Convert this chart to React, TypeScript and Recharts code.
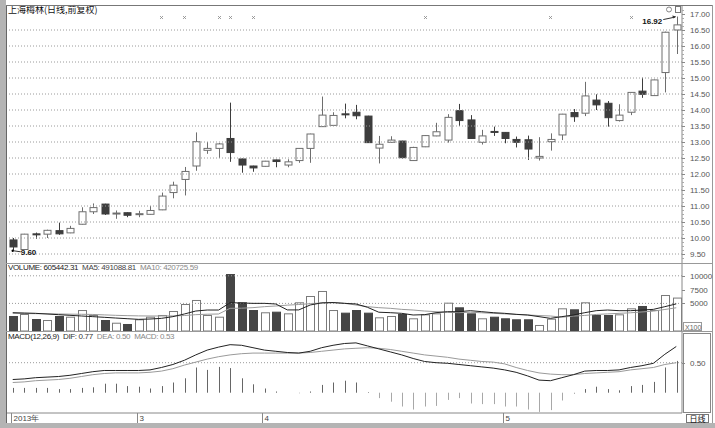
import React from 'react';
import { ComposedChart, Bar, Line, XAxis, YAxis, ReferenceLine } from 'recharts';

// daily candles, 上海梅林 2013
const OPEN = [
  9.94, 9.64, 10.13, 10.12, 10.23, 10.16, 10.43, 10.82, 11.06, 10.77,
  10.79, 10.74, 10.74, 10.88, 11.42, 11.83, 12.25, 12.74, 12.80, 13.11,
  12.47, 12.25, 12.24, 12.44, 12.28, 12.42, 12.80, 13.48, 13.52, 13.88,
  13.93, 13.81, 12.81, 12.99, 13.03, 12.42, 12.85, 13.19, 13.06, 13.98,
  13.69, 12.99, 13.33, 13.30, 13.08, 13.07, 12.50, 13.01, 13.22, 13.92,
  13.90, 14.31, 14.21, 13.67, 13.93, 14.59, 14.45, 15.17, 16.50,
];
const HIGH = [
  10.00, 10.13, 10.17, 10.26, 10.48, 10.38, 10.96, 11.08, 11.07, 10.86,
  10.80, 10.85, 11.00, 11.42, 11.76, 12.22, 13.30, 13.00, 12.97, 14.23,
  12.48, 12.26, 12.41, 12.45, 12.46, 12.81, 13.26, 14.42, 13.93, 14.20,
  14.16, 13.82, 13.19, 13.18, 13.04, 12.85, 13.21, 13.60, 13.87, 14.19,
  13.84, 13.38, 13.48, 13.31, 13.17, 13.20, 13.15, 13.27, 13.88, 14.03,
  14.88, 14.49, 14.28, 14.18, 14.56, 15.01, 14.95, 16.45, 16.92,
];
const LOW = [
  9.60, 9.62, 9.97, 10.00, 10.10, 10.15, 10.42, 10.75, 10.72, 10.60,
  10.65, 10.65, 10.73, 10.87, 11.24, 11.33, 12.10, 12.63, 12.50, 12.38,
  12.04, 12.07, 12.23, 12.21, 12.21, 12.35, 12.35, 13.47, 13.50, 13.74,
  13.71, 12.97, 12.33, 12.98, 12.48, 12.41, 12.84, 13.18, 12.98, 13.50,
  13.10, 12.92, 13.19, 12.96, 12.83, 12.44, 12.42, 12.73, 13.06, 13.63,
  13.81, 14.00, 13.48, 13.64, 13.84, 14.38, 14.44, 14.55, 15.75,
];
const CLOSE = [
  9.72, 10.12, 10.12, 10.24, 10.13, 10.30, 10.82, 10.95, 10.75, 10.78,
  10.71, 10.76, 10.86, 11.31, 11.65, 12.08, 13.01, 12.80, 12.94, 12.67,
  12.28, 12.19, 12.40, 12.39, 12.38, 12.80, 13.25, 13.84, 13.83, 13.86,
  13.82, 12.98, 12.93, 13.06, 12.51, 12.83, 13.20, 13.32, 13.77, 13.67,
  13.11, 13.19, 13.32, 13.11, 12.99, 12.78, 12.55, 13.08, 13.87, 13.79,
  14.44, 14.16, 13.76, 13.84, 14.55, 14.49, 14.94, 16.43, 16.66,
];
const VOLUME = [
  272000, 308000, 217000, 199000, 272000, 259000, 380000, 290000, 199000, 150000,
  127000, 212000, 259000, 290000, 362000, 489000, 562000, 290000, 259000, 1032000,
  520000, 380000, 339000, 350000, 320000, 520000, 634000, 725000, 380000, 332000,
  380000, 332000, 248000, 272000, 308000, 230000, 302000, 320000, 513000, 429000,
  320000, 230000, 259000, 230000, 212000, 212000, 109000, 223000, 411000, 393000,
  520000, 290000, 290000, 302000, 411000, 453000, 380000, 652000, 605442,
];
const VOL_MA5 = [
  332000, 326000, 320000, 308000, 296000, 284000, 272000, 260000, 248000, 235000,
  223000, 211000, 217000, 229000, 260000, 308000, 362000, 380000, 380000, 513000,
  507000, 501000, 501000, 489000, 382000, 382000, 471000, 510000, 516000, 501000,
  490000, 430000, 340000, 332000, 320000, 290000, 296000, 332000, 350000, 350000,
  368000, 350000, 332000, 320000, 302000, 290000, 260000, 229000, 260000, 290000,
  332000, 368000, 380000, 368000, 368000, 380000, 392000, 441000, 491089,
];
const VOL_MA10 = [
  320000, 316000, 314000, 312000, 308000, 305000, 303000, 300000, 292000, 284000,
  278000, 274000, 272000, 272000, 274000, 280000, 296000, 304000, 308000, 411000,
  413000, 423000, 441000, 453000, 468000, 480000, 495000, 507000, 513000, 501000,
  471000, 441000, 423000, 411000, 392000, 380000, 362000, 350000, 338000, 332000,
  340000, 330000, 320000, 310000, 300000, 290000, 280000, 272000, 250000, 270000,
  282000, 300000, 310000, 320000, 330000, 345000, 360000, 390000, 420726,
];
const DIF = [
  0.22, 0.23, 0.25, 0.26, 0.27, 0.29, 0.32, 0.35, 0.37, 0.37,
  0.37, 0.37, 0.38, 0.42, 0.47, 0.54, 0.63, 0.71, 0.76, 0.80,
  0.79, 0.75, 0.71, 0.69, 0.67, 0.66, 0.69, 0.75, 0.79, 0.82,
  0.83, 0.78, 0.73, 0.68, 0.63, 0.57, 0.52, 0.50, 0.49, 0.47,
  0.45, 0.43, 0.41, 0.38, 0.34, 0.28, 0.21, 0.20, 0.25, 0.30,
  0.36, 0.37, 0.37, 0.38, 0.42, 0.45, 0.49, 0.64, 0.77,
];
const DEA = [
  0.17, 0.18, 0.20, 0.21, 0.22, 0.24, 0.27, 0.30, 0.32, 0.33,
  0.33, 0.33, 0.34, 0.36, 0.40, 0.46, 0.51, 0.56, 0.60, 0.63,
  0.65, 0.66, 0.66, 0.66, 0.66, 0.66, 0.67, 0.69, 0.71, 0.73,
  0.74, 0.75, 0.74, 0.72, 0.69, 0.66, 0.63, 0.61, 0.59, 0.56,
  0.54, 0.52, 0.51, 0.48, 0.42, 0.37, 0.33, 0.31, 0.30, 0.30,
  0.32, 0.33, 0.34, 0.35, 0.38, 0.40, 0.42, 0.47, 0.50,
];
const MACD_BAR = [
  0.08, 0.08, 0.08, 0.08, 0.06, 0.06, 0.08, 0.09, 0.15, 0.15,
  0.11, 0.10, 0.07, 0.11, 0.17, 0.24, 0.42, 0.38, 0.43, 0.41,
  0.24, 0.14, 0.07, 0.02, 0.00, -0.01, 0.02, 0.13, 0.17, 0.20,
  0.17, 0.01, -0.09, -0.15, -0.23, -0.28, -0.23, -0.22, -0.12, -0.09,
  -0.18, -0.19, -0.19, -0.23, -0.23, -0.28, -0.32, -0.29, -0.13, -0.02,
  0.06, 0.10, 0.06, 0.04, 0.11, 0.13, 0.18, 0.42, 0.53,
];

const PRICE_TICKS = [9.5, 10, 10.5, 11, 11.5, 12, 12.5, 13, 13.5, 14, 14.5, 15, 15.5, 16, 16.5, 17];
const PRICE_MINOR = [
  9.375, 9.625, 9.75, 9.875, 10.125, 10.25, 10.375, 10.625, 10.75, 10.875,
  11.125, 11.25, 11.375, 11.625, 11.75, 11.875, 12.125, 12.25, 12.375, 12.625, 12.75, 12.875,
  13.125, 13.25, 13.375, 13.625, 13.75, 13.875, 14.125, 14.25, 14.375, 14.625, 14.75, 14.875,
  15.125, 15.25, 15.375, 15.625, 15.75, 15.875, 16.125, 16.25, 16.375, 16.625, 16.75, 16.875, 17.125,
];
const PRICE_GRID = PRICE_TICKS.filter(t => t < 17);
const VOL_TICKS = [500000, 750000, 1000000];
const VOL_GRID = [500000, 1000000];
const MACD_TICKS = [0.5];
const MONTH_TICKS: Record<number, string> = { 0: '2013年', 11: '3', 22: '4', 43: '5' };
const EVENT_MARKS = [13, 15, 18, 19, 21, 36, 47, 54];
const MARK_LEVEL = 16.9;
const LOW_TAG = { i: 0, text: '9.60' };
const HIGH_TAG = { i: 58, text: '16.92' };

const data = OPEN.map((o, i) => ({
  i,
  o, h: HIGH[i], l: LOW[i], c: CLOSE[i],
  v: VOLUME[i], ma5: VOL_MA5[i], ma10: VOL_MA10[i],
  dif: DIF[i], dea: DEA[i], macd: MACD_BAR[i],
  mark: EVENT_MARKS.includes(i) ? MARK_LEVEL : null,
}));

const W = 706;
const AXIS_W = 31;
const PRICE_DOMAIN: [number, number] = [9.21875, 17.28125];
const VOL_TOP = 263;
const VOL_H = 68;
const VOL_MAX = 1231884;
const FONT = '"Liberation Sans", Arial, sans-serif';
const DARK = '#3d3d3d';
const LIGHT = '#6e6e6e';

// right-hand axis tick: long dash + label for majors, short dash for minors
function makeAxisTick(majors: number[], fmt: ((v: number) => string) | null) {
  return (props: any) => {
    const { x, y, payload } = props;
    const v = payload.value;
    const major = majors.some(m => Math.abs(m - v) < 1e-9);
    const yy = Math.round(y) + 0.5;
    return (
      <g>
        <line x1={x} x2={x + (major ? 3 : 2)} y1={yy} y2={yy} stroke={major ? '#888' : '#aaa'} />
        {major && fmt && (
          <text x={x + 8} y={y} dy={3} fontSize={8} fill="#555" fontFamily={FONT}>{fmt(v)}</text>
        )}
      </g>
    );
  };
}
const priceTick = makeAxisTick(PRICE_TICKS, v => v.toFixed(2));
const volTick = makeAxisTick(VOL_TICKS, null);
const macdTick = makeAxisTick(MACD_TICKS, v => v.toFixed(2));
const PRICE_ALL_TICKS = [...PRICE_TICKS, ...PRICE_MINOR].sort((a, b) => a - b);

function Candle(props: any) {
  const { x, y, width, height, payload } = props;
  if (!payload || !isFinite(y)) return <g />;
  const top = Math.min(y, y + height);
  const span = Math.abs(height);
  const { o, h, l, c } = payload;
  const py = (p: number) => top + ((h - p) / (h - l)) * span;
  const up = c >= o;
  const cx = Math.round(x + width / 2) + 0.5;
  const bTop = py(Math.max(o, c));
  const bBot = py(Math.min(o, c));
  const col = up ? LIGHT : DARK;
  return (
    <g>
      <line x1={cx} x2={cx} y1={top} y2={top + span} stroke={col} />
      <rect x={cx - 3.5} y={bTop} width={7} height={Math.max(bBot - bTop, 1)}
        fill={up ? '#fff' : DARK} stroke={col} />
    </g>
  );
}

function VolBar(props: any) {
  const { x, y, width, height, payload } = props;
  if (!payload) return <g />;
  const up = payload.c >= payload.o;
  const top = Math.min(y, y + height);
  const cx = Math.round(x + width / 2) + 0.5;
  return (
    <rect x={cx - 4} y={top + 0.5} width={8} height={Math.max(Math.abs(height) - 0.5, 0)}
      fill={up ? '#fff' : '#454545'} stroke={up ? '#7a7a7a' : '#454545'} />
  );
}

function MacdStick(props: any) {
  const { x, y, width, height, payload } = props;
  if (!payload) return <g />;
  const cx = Math.round(x + width / 2) + 0.5;
  return <line x1={cx} x2={cx} y1={y} y2={y + height} stroke={payload.macd >= 0 ? '#666' : '#a8a8a8'} />;
}

function markDot(props: any) {
  const { cx, cy, payload, index } = props;
  if (payload.mark == null || !isFinite(cy)) return <g key={index} />;
  const x = Math.round(cx) + 0.5, y = Math.round(cy) + 0.5;
  return (
    <path key={index} d={`M${x - 1.5} ${y - 1.5} L${x + 1.5} ${y + 1.5} M${x + 1.5} ${y - 1.5} L${x - 1.5} ${y + 1.5}`}
      stroke="#888" strokeWidth={0.8} fill="none" />
  );
}

function lowTagDot(props: any) {
  const { cx, cy, index } = props;
  if (index !== LOW_TAG.i) return <g key={index} />;
  return (
    <g key={index}>
      <circle cx={cx} cy={cy} r={1.2} fill="#000" />
      <line x1={cx + 1} y1={cy} x2={cx + 8} y2={cy + 1} stroke="#333" />
      <text x={cx + 8} y={cy + 4} fontSize={8} fill="#111" fontFamily={FONT} fontWeight="bold">{LOW_TAG.text}</text>
    </g>
  );
}

function highTagDot(props: any) {
  const { cx, cy, index } = props;
  if (index !== HIGH_TAG.i) return <g key={index} />;
  return (
    <g key={index}>
      <line x1={cx - 13} y1={cy + 3} x2={cx - 1} y2={cy + 0.5} stroke="#333" />
      <path d={`M${cx} ${cy} l-4 -1 l1 3 z`} fill="#333" />
      <text x={cx - 14} y={cy + 7} textAnchor="end" fontSize={8} fill="#111" fontFamily={FONT} fontWeight="bold">{HIGH_TAG.text}</text>
    </g>
  );
}

function MonthTick(props: any) {
  const { x, y, payload } = props;
  const label = MONTH_TICKS[payload.value];
  if (label == null) return <g />;
  const lx = Math.round(x) - 1.5;
  return (
    <g>
      <line x1={lx} x2={lx} y1={y} y2={y + 10} stroke="#888" />
      <text x={lx + 2} y={y + 8} fontSize={8} fill="#444" fontFamily={FONT}>{label}</text>
    </g>
  );
}

const dotted = { stroke: '#9a9a9a', strokeDasharray: '1 2' };
const header = { position: 'absolute' as const, left: 8, fontSize: 8, lineHeight: '10px', whiteSpace: 'nowrap' as const, letterSpacing: '-0.35px' };
const yAxisCommon = {
  orientation: 'right' as const, width: AXIS_W, allowDataOverflow: true, interval: 'preserveStartEnd' as const, minTickGap: -60,
  tickSize: 0, tickMargin: 0, tickLine: false, axisLine: { stroke: '#888' }, tickFormatter: () => '',
};

export default function App() {
  return (
    <div style={{ position: 'absolute', left: 0, top: 0, width: 715, height: 428, background: '#fff', fontFamily: FONT, overflow: 'hidden' }}>
      <div style={{ position: 'absolute', left: 7, top: 5 }}>
        <ComposedChart width={W} height={258} data={data} margin={{ top: 0, right: 0, bottom: 0, left: 0 }}>
          <XAxis dataKey="i" type="category" hide />
          <YAxis {...yAxisCommon} domain={PRICE_DOMAIN} ticks={PRICE_ALL_TICKS} tick={priceTick} />
          {PRICE_GRID.map(p => <ReferenceLine key={p} y={p} {...dotted} />)}
          <Bar dataKey={(d: any) => [d.l, d.h]} barSize={8} shape={Candle} isAnimationActive={false} />
          <Line dataKey="mark" stroke="none" dot={markDot} activeDot={false} isAnimationActive={false} />
          <Line dataKey="l" stroke="none" dot={lowTagDot} activeDot={false} isAnimationActive={false} />
          <Line dataKey="h" stroke="none" dot={highTagDot} activeDot={false} isAnimationActive={false} />
        </ComposedChart>
      </div>

      <div style={{ position: 'absolute', left: 7, top: VOL_TOP }}>
        <ComposedChart width={W} height={VOL_H} data={data} margin={{ top: 0, right: 0, bottom: 0, left: 0 }}>
          <XAxis dataKey="i" type="category" hide />
          <YAxis {...yAxisCommon} domain={[0, VOL_MAX]} ticks={VOL_TICKS} tick={volTick} />
          {VOL_GRID.map(v => <ReferenceLine key={v} y={v} {...dotted} />)}
          <Bar dataKey="v" barSize={8} shape={VolBar} isAnimationActive={false} />
          <Line dataKey="ma10" stroke="#9a9a9a" dot={false} activeDot={false} isAnimationActive={false} />
          <Line dataKey="ma5" stroke="#222" dot={false} activeDot={false} isAnimationActive={false} />
        </ComposedChart>
      </div>

      <div style={{ position: 'absolute', left: 7, top: 331 }}>
        <ComposedChart width={W} height={92} data={data} margin={{ top: 0, right: 0, bottom: 0, left: 0 }}>
          <XAxis dataKey="i" type="category" height={10} interval={0} tick={MonthTick}
            tickSize={0} tickMargin={0} tickLine={false} axisLine={{ stroke: '#888' }} />
          <YAxis {...yAxisCommon} domain={[-0.338, 1.028]} ticks={MACD_TICKS} tick={macdTick} />
          {MACD_TICKS.map(v => <ReferenceLine key={v} y={v} {...dotted} />)}
          <Bar dataKey="macd" barSize={2} shape={MacdStick} isAnimationActive={false} />
          <Line dataKey="dea" stroke="#9a9a9a" dot={false} activeDot={false} isAnimationActive={false} />
          <Line dataKey="dif" stroke="#222" dot={false} activeDot={false} isAnimationActive={false} />
        </ComposedChart>
      </div>

      <div style={{ position: 'absolute', left: 8, top: 5, fontSize: 9, lineHeight: '10px', color: '#111', fontFamily: '"Noto Sans CJK SC", sans-serif' }}>
        上海梅林(日线,前复权)
      </div>
      <div style={{ ...header, top: 263 }}>
        <span style={{ color: '#222' }}>VOLUME: 605442.31</span>
        <span style={{ color: '#444', marginLeft: 4 }}>MA5: 491088.81</span>
        <span style={{ color: '#888', marginLeft: 4 }}>MA10: 420725.59</span>
      </div>
      <div style={{ ...header, top: 332 }}>
        <span style={{ color: '#222' }}>MACD(12,26,9)</span>
        <span style={{ color: '#333', marginLeft: 4 }}>DIF: 0.77</span>
        <span style={{ color: '#888', marginLeft: 4 }}>DEA: 0.50</span>
        <span style={{ color: '#888', marginLeft: 4 }}>MACD: 0.53</span>
      </div>

      <svg width={715} height={428} style={{ position: 'absolute', left: 0, top: 0, pointerEvents: 'none' }}>
        <rect x={0} y={0} width={6} height={428} fill="#b4b4b4" />
        <rect x={0} y={423} width={715} height={5} fill="#b4b4b4" />
        <line x1={6.5} y1={5} x2={6.5} y2={423} stroke="#666" />
        <line x1={6} y1={5.5} x2={713} y2={5.5} stroke="#777" />
        <line x1={712.5} y1={5} x2={712.5} y2={423} stroke="#999" />
        <line x1={6} y1={263.5} x2={713} y2={263.5} stroke="#999" />
        <line x1={6} y1={331.5} x2={713} y2={331.5} stroke="#999" />
        {/* volume axis labels (x100) */}
        {VOL_TICKS.map(v => (
          <text key={v} x={690} y={VOL_TOP + VOL_H * (1 - v / VOL_MAX)} dy={3} fontSize={8} fill="#555" fontFamily={FONT}>
            {String(v / 100)}
          </text>
        ))}
        <rect x={683.5} y={333.5} width={27} height={79} fill="none" stroke="#888" />
        <rect x={683.5} y={322.5} width={18} height={8} fill="none" stroke="#999" />
        <text x={685} y={329.5} fontSize={7} fill="#666" fontFamily={FONT}>X100</text>
        <rect x={686.5} y={414.5} width={22} height={8} fill="none" stroke="#777" />
        <text x={697.5} y={421.5} textAnchor="middle" fontSize={8} fill="#111" fontFamily='"Noto Sans CJK SC", sans-serif'>日线</text>
        <circle cx={669} cy={9.5} r={2.5} fill="none" stroke="#888" />
        <rect x={675.5} y={6.5} width={5} height={6} fill="none" stroke="#777" />
      </svg>
    </div>
  );
}
